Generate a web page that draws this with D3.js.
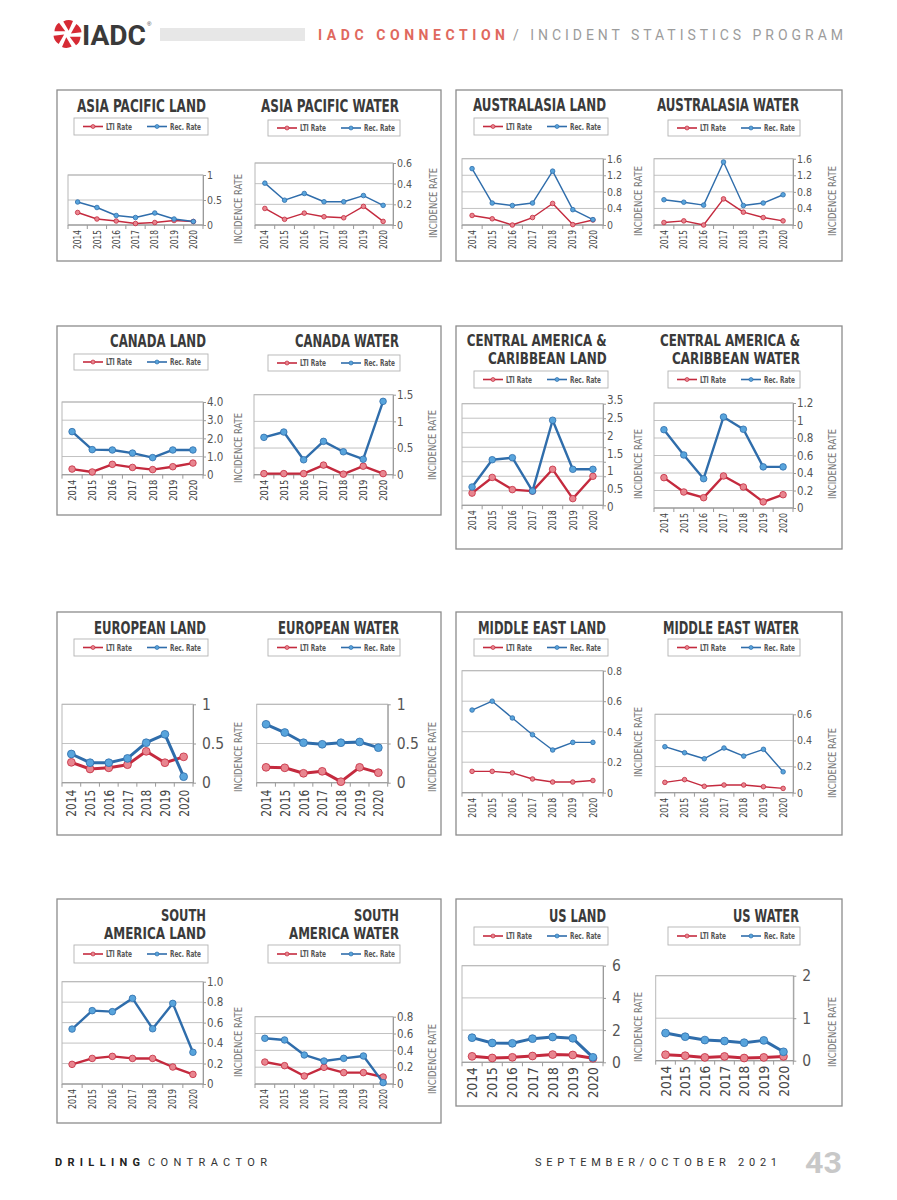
<!DOCTYPE html>
<html><head><meta charset="utf-8">
<script src="https://cdn.jsdelivr.net/npm/d3@7"></script>
<style>body{margin:0;background:#fff}svg{display:block}</style>
</head><body>
<svg id="page" width="897" height="1200"></svg>
<script>
// ---------------- DATA ----------------
const years = ["2014","2015","2016","2017","2018","2019","2020"];

const asiaPacificLandLTI  = [0.25,0.12,0.08,0.03,0.05,0.09,0.07];
const asiaPacificLandRec  = [0.46,0.35,0.19,0.15,0.24,0.12,0.07];
const asiaPacificWaterLTI = [0.16,0.055,0.115,0.08,0.07,0.18,0.035];
const asiaPacificWaterRec = [0.405,0.24,0.305,0.225,0.225,0.285,0.19];
const australasiaLandLTI  = [0.23,0.15,0.0,0.18,0.52,0.01,0.12];
const australasiaLandRec  = [1.36,0.53,0.47,0.53,1.30,0.37,0.13];
const australasiaWaterLTI = [0.06,0.10,0.0,0.63,0.31,0.18,0.10];
const australasiaWaterRec = [0.61,0.55,0.48,1.52,0.47,0.53,0.73];
const canadaLandLTI  = [0.31,0.15,0.57,0.40,0.28,0.44,0.64];
const canadaLandRec  = [2.37,1.38,1.36,1.19,0.94,1.36,1.36];
const canadaWaterLTI = [0.02,0.02,0.02,0.18,0.01,0.16,0.02];
const canadaWaterRec = [0.70,0.80,0.28,0.625,0.43,0.29,1.375];
const centralAmLandLTI  = [0.42,0.96,0.54,0.49,1.24,0.23,1.0];
const centralAmLandRec  = [0.63,1.57,1.64,0.49,2.93,1.24,1.24];
const centralAmWaterLTI = [0.347,0.183,0.118,0.366,0.24,0.07,0.152];
const centralAmWaterRec = [0.895,0.606,0.335,1.04,0.90,0.47,0.47];
const europeanLandLTI  = [0.26,0.175,0.19,0.23,0.40,0.255,0.33];
const europeanLandRec  = [0.366,0.255,0.255,0.31,0.51,0.617,0.077];
const europeanWaterLTI = [0.196,0.19,0.12,0.145,0.013,0.196,0.128];
const europeanWaterRec = [0.745,0.64,0.51,0.49,0.51,0.52,0.447];
const middleEastLandLTI  = [0.14,0.14,0.13,0.09,0.07,0.07,0.08];
const middleEastLandRec  = [0.542,0.60,0.49,0.38,0.28,0.33,0.33];
const middleEastWaterLTI = [0.079,0.10,0.049,0.059,0.059,0.046,0.033];
const middleEastWaterRec = [0.352,0.306,0.26,0.342,0.28,0.332,0.16];
const southAmLandLTI  = [0.192,0.25,0.27,0.25,0.25,0.166,0.094];
const southAmLandRec  = [0.537,0.717,0.707,0.837,0.54,0.788,0.31];
const southAmWaterLTI = [0.261,0.218,0.095,0.198,0.135,0.135,0.083];
const southAmWaterRec = [0.543,0.523,0.345,0.273,0.305,0.333,0.016];
const usLandLTI  = [0.37,0.27,0.31,0.39,0.48,0.455,0.25];
const usLandRec  = [1.53,1.20,1.18,1.47,1.57,1.49,0.31];
const usWaterLTI = [0.141,0.118,0.078,0.10,0.063,0.078,0.10];
const usWaterRec = [0.65,0.565,0.486,0.463,0.424,0.478,0.21];

// tick values and their labels
const ticksHalf = [0,0.5,1];            const labelsHalf = ["0","0.5","1"];
const ticks06 = [0,0.2,0.4,0.6];        const labels06 = ["0","0.2","0.4","0.6"];
const ticks16 = [0,0.4,0.8,1.2,1.6];    const labels16 = ["0","0.4","0.8","1.2","1.6"];
const ticks40 = [0,1,2,3,4];            const labels40 = ["0","1.0","2.0","3.0","4.0"];
const ticks15 = [0,0.5,1,1.5];          const labels15 = ["0","0.5","1","1.5"];
const ticks35 = [0,0.5,1,1.5,2,2.5,3,3.5]; const labels35 = ["3.5","2.5","2","1.5","1","0.5","0"];
const ticks12 = [0,0.2,0.4,0.6,0.8,1,1.2]; const labels12 = ["0","0.2","0.4","0.6","0.8","1","1.2"];
const ticks08 = [0,0.2,0.4,0.6,0.8];    const labels08 = ["0","0.2","0.4","0.6","0.8"];
const ticks10 = [0,0.2,0.4,0.6,0.8,1];  const labels10 = ["0","0.2","0.4","0.6","0.8","1.0"];
const ticks6 = [0,2,4,6];               const labels6 = ["0","2","4","6"];
const ticks2 = [0,1,2];                 const labels2 = ["0","1","2"];

// ---------------- STYLE / LAYOUT ----------------
const COND = "'DejaVu Sans Condensed','Liberation Sans Narrow','Roboto Condensed',Roboto,sans-serif";
const RED = "#c42a3e", REDF = "#e8858f", BLUE = "#2f6dab", BLUEF = "#58a4dc";
const thin  = {lw:1.4, r:2.3, tfs:10.5, pad:4};
const med   = {lw:2.4, r:3.3, tfs:11.5, pad:4};
const thick = {lw:3.0, r:3.9, tfs:15.5, pad:9};

const boxes = [[57,90,384,171],[456,90,386,171],[57,326,384,189],[456,326,386,223],
               [57,612,384,223],[456,612,386,223],[57,899,384,224],[456,899,386,207]];

const charts = [
 {t:["ASIA PACIFIC LAND"], tr:206, ty:112, tw:[129], leg:[74,118,134,17], p:[68,203,175,225], ymax:1, ticks:ticksHalf, labels:labelsHalf, lti:asiaPacificLandLTI, rec:asiaPacificLandRec, st:thin, yl:[237.5,209], yf:10, ylen:19, yg:5},
 {t:["ASIA PACIFIC WATER"], tr:399, ty:112, tw:[138], leg:[268,120,132,16], p:[255,393,163,225], ymax:0.6, ticks:ticks06, labels:labels06, lti:asiaPacificWaterLTI, rec:asiaPacificWaterRec, st:thin, yl:[432.5,203], yf:10, ylen:19, yg:5},
 {t:["AUSTRALASIA LAND"], tr:606, ty:111, tw:[133], leg:[474,118,134,17], p:[462,603,158.7,225], ymax:1.6, ticks:ticks16, labels:labels16, lti:australasiaLandLTI, rec:australasiaLandRec, st:thin, yl:[638,201], yf:10, ylen:19, yg:5},
 {t:["AUSTRALASIA WATER"], tr:799, ty:111, tw:[142], leg:[668,120,132,16], p:[654,793,158.7,225], ymax:1.6, ticks:ticks16, labels:labels16, lti:australasiaWaterLTI, rec:australasiaWaterRec, st:thin, yl:[832,201], yf:10, ylen:19, yg:5},
 {t:["CANADA LAND"], tr:206, ty:347, tw:[96], leg:[74,354,134,16], p:[62,203,402,474.7], ymax:4, ticks:ticks40, labels:labels40, lti:canadaLandLTI, rec:canadaLandRec, st:med, yl:[237.7,448], yf:11, ylen:21, yg:5},
 {t:["CANADA WATER"], tr:399, ty:347, tw:[104], leg:[268,355,132,16], p:[254,393,394.7,474.7], ymax:1.5, ticks:ticks15, labels:labels15, lti:canadaWaterLTI, rec:canadaWaterRec, st:med, yl:[431.7,445], yf:11, ylen:21, yg:5},
 {t:["CENTRAL AMERICA &","CARIBBEAN LAND"], tr:606.7, ty:347, tw:[140,118.7], leg:[474,371,134,17], p:[462,603,403.7,505.3], ymax:3.5, ticks:ticks35, labels:labels35, pointLabels:true, lti:centralAmLandLTI, rec:centralAmLandRec, st:med, yl:[638,464], yf:10.5, ylen:20, yg:5},
 {t:["CENTRAL AMERICA &","CARIBBEAN WATER"], tr:800, ty:347, tw:[140,128], leg:[668,371,132,17], p:[654,793,403,508], ymax:1.2, ticks:ticks12, labels:labels12, lti:centralAmWaterLTI, rec:centralAmWaterRec, st:med, yl:[831.7,464], yf:10.5, ylen:20, yg:5},
 {t:["EUROPEAN LAND"], tr:206, ty:634, tw:[112], leg:[74,639,134,17], p:[62,193,704.3,782.7], ymax:1, ticks:ticksHalf, labels:labelsHalf, lti:europeanLandLTI, rec:europeanLandRec, st:thick, yl:[237.7,757], yf:14, ylen:27, yg:7},
 {t:["EUROPEAN WATER"], tr:399, ty:634, tw:[121], leg:[268,639,132,17], p:[256.7,387.7,704.3,782.7], ymax:1, ticks:ticksHalf, labels:labelsHalf, lti:europeanWaterLTI, rec:europeanWaterRec, st:thick, yl:[431.7,757], yf:14, ylen:27, yg:7},
 {t:["MIDDLE EAST LAND"], tr:606, ty:634, tw:[128], leg:[474,639,134,17], p:[462,603,670.7,792.7], ymax:0.8, ticks:ticks08, labels:labels08, lti:middleEastLandLTI, rec:middleEastLandRec, st:thin, yl:[637.7,742], yf:10, ylen:20, yg:5},
 {t:["MIDDLE EAST WATER"], tr:799, ty:634, tw:[136], leg:[668,639,132,17], p:[655,793,714.3,792.7], ymax:0.6, ticks:ticks06, labels:labels06, lti:middleEastWaterLTI, rec:middleEastWaterRec, st:thin, yl:[831.7,763], yf:10, ylen:20, yg:5},
 {t:["SOUTH","AMERICA LAND"], tr:206, ty:921.7, tw:[45,102], leg:[74,945,134,18], p:[62,203,981.7,1084], ymax:1, ticks:ticks10, labels:labels10, lti:southAmLandLTI, rec:southAmLandRec, st:med, yl:[237.7,1042], yf:10, ylen:20, yg:5},
 {t:["SOUTH","AMERICA WATER"], tr:399, ty:921.7, tw:[45,110], leg:[268,945,132,18], p:[255,393,1016.7,1084], ymax:0.8, ticks:ticks08, labels:labels08, lti:southAmWaterLTI, rec:southAmWaterRec, st:med, yl:[431.7,1059], yf:10, ylen:20, yg:5},
 {t:["US LAND"], tr:606, ty:921.7, tw:[57], leg:[474,927,134,18], p:[462,603,965.7,1062.3], ymax:6, ticks:ticks6, labels:labels6, lti:usLandLTI, rec:usLandRec, st:thick, yl:[637.7,1027], yf:14, ylen:31, yg:5},
 {t:["US WATER"], tr:799, ty:921.7, tw:[66], leg:[668,927,132,18], p:[655.7,793.3,975.7,1060.7], ymax:2, ticks:ticks2, labels:labels2, lti:usWaterLTI, rec:usWaterRec, st:thick, yl:[831.7,1032], yf:14, ylen:31, yg:5}
];

// ---------------- DRAW ----------------
const svg = d3.select("#page");

// header
const hdr = svg.append("g");
const petal = "M1.2,-3.2 L5.5,-13 Q1,-15.2 -4.2,-12.6 Z";
for (let k = 0; k < 6; k++) {
  hdr.append("path").attr("d", petal).attr("fill", "#d62a34")
     .attr("transform", `translate(67.5,34) rotate(${k*60})`);
}
hdr.append("text").attr("x",82).attr("y",45).text("IADC")
   .attr("font-family","Roboto,'Liberation Sans',sans-serif").attr("font-weight",700)
   .attr("font-size",27).attr("fill","#3a3a3a").attr("textLength",64).attr("lengthAdjust","spacingAndGlyphs");
hdr.append("text").attr("x",147).attr("y",26).text("®").attr("font-size",6).attr("fill","#3a3a3a").attr("font-family","sans-serif");
hdr.append("rect").attr("x",160).attr("y",28).attr("width",145).attr("height",13).attr("fill","#e7e7e7");
hdr.append("text").attr("x",318).attr("y",39.5).text("IADC CONNECTION")
   .attr("font-family","Roboto,sans-serif").attr("font-weight",700).attr("font-size",14)
   .attr("fill","#e0695e").attr("textLength",187).attr("lengthAdjust","spacing");
hdr.append("text").attr("x",513).attr("y",39.5).text("/ INCIDENT STATISTICS PROGRAM")
   .attr("font-family","Roboto,sans-serif").attr("font-weight",400).attr("font-size",14)
   .attr("fill","#9c9c9c").attr("textLength",330).attr("lengthAdjust","spacing");

// footer
const ftr = svg.append("g").attr("font-family","Roboto,sans-serif");
ftr.append("text").attr("x",55).attr("y",1166).text("DRILLING").attr("font-weight",700).attr("font-size",11)
   .attr("fill","#222").attr("textLength",85).attr("lengthAdjust","spacing");
ftr.append("text").attr("x",148).attr("y",1166).text("CONTRACTOR").attr("font-size",11)
   .attr("fill","#333").attr("textLength",119).attr("lengthAdjust","spacing");
ftr.append("text").attr("x",535).attr("y",1166).text("SEPTEMBER/OCTOBER 2021").attr("font-size",11)
   .attr("fill","#333").attr("textLength",242).attr("lengthAdjust","spacing");
ftr.append("text").attr("x",805).attr("y",1172.5).text("43").attr("font-weight",700).attr("font-size",30)
   .attr("fill","#c8c8c8").attr("textLength",37).attr("lengthAdjust","spacingAndGlyphs");

// panel boxes
svg.selectAll("rect.box").data(boxes).enter().append("rect").attr("class","box")
  .attr("x",d=>d[0]).attr("y",d=>d[1]).attr("width",d=>d[2]).attr("height",d=>d[3])
  .attr("fill","none").attr("stroke","#8c8c8c").attr("stroke-width",1.3);

function drawChart(c) {
  const g = svg.append("g");
  const [l, r, t, b] = c.p;
  const x = d3.scaleBand().domain(years).range([l, r]);
  const y = d3.scaleLinear().domain([0, c.ymax]).range([b, t]);
  const cx = d => x(d) + x.bandwidth() / 2;

  // title (two-line titles slightly smaller so the lines do not collide)
  const multi = c.t.length > 1;
  c.t.forEach((line, i) => {
    const by = multi ? (i === 0 ? c.ty - 1.2 : c.ty + 17.4) : c.ty;
    g.append("text").attr("x", c.tr).attr("y", by).text(line)
     .attr("text-anchor","end").attr("font-family",COND).attr("font-weight",700)
     .attr("font-size", multi ? 15.6 : 17).attr("fill","#3a3a3a")
     .attr("textLength",c.tw[i]).attr("lengthAdjust","spacingAndGlyphs");
  });

  // legend
  const [lx, ly, lw, lh] = c.leg;
  const lg = g.append("g");
  lg.append("rect").attr("x",lx).attr("y",ly).attr("width",lw).attr("height",lh)
    .attr("fill","#fff").attr("stroke","#b3b3b3").attr("stroke-width",0.9);
  const my = ly + lh / 2;
  const items = [{name:"LTI Rate", s:RED, f:REDF, x0:lx+9, tl:26}, {name:"Rec. Rate", s:BLUE, f:BLUEF, x0:lx+73, tl:31}];
  items.forEach(it => {
    lg.append("line").attr("x1",it.x0).attr("x2",it.x0+20).attr("y1",my).attr("y2",my)
      .attr("stroke",it.s).attr("stroke-width",1.6);
    lg.append("circle").attr("cx",it.x0+10).attr("cy",my).attr("r",2).attr("fill",it.f)
      .attr("stroke",it.s).attr("stroke-width",0.7);
    lg.append("text").attr("x",it.x0+23).attr("y",my+3).text(it.name)
      .attr("font-family",COND).attr("font-weight",700).attr("font-size",8.5).attr("fill","#555")
      .attr("textLength",it.tl).attr("lengthAdjust","spacingAndGlyphs");
  });

  // gridlines
  g.append("g").selectAll("line").data(c.ticks).enter().append("line")
    .attr("x1",l).attr("x2",r).attr("y1",d=>y(d)).attr("y2",d=>y(d))
    .attr("stroke","#c2c2c2").attr("stroke-width",1);
  // plot border
  g.append("rect").attr("x",l).attr("y",t).attr("width",r-l).attr("height",b-t)
    .attr("fill","none").attr("stroke","#b8b8b8").attr("stroke-width",1);

  // right value axis
  const ax = g.append("g").attr("transform",`translate(${r},0)`)
    .call(d3.axisRight(y).tickValues(c.ticks).tickSize(3).tickSizeOuter(0).tickPadding(c.st.pad - 3)
      .tickFormat(c.pointLabels ? () => "" : (d, i) => c.labels[i]));
  ax.select(".domain").attr("stroke","#9a9a9a");
  ax.selectAll(".tick line").attr("stroke","#9a9a9a");
  ax.selectAll("text").attr("font-family",COND).attr("font-size",c.st.tfs).attr("fill","#555");
  if (c.pointLabels) {
    const ps = d3.scalePoint().domain(c.labels).range([t - 3.4, b + 1.7]);
    g.append("g").selectAll("text").data(c.labels).enter().append("text")
      .attr("x", r + c.st.pad).attr("y", d => ps(d)).attr("dy","0.35em").text(d => d)
      .attr("font-family",COND).attr("font-size",c.st.tfs).attr("fill","#555");
  }

  // bottom category axis: baseline and tick marks between categories
  g.append("line").attr("x1",l).attr("x2",r).attr("y1",b).attr("y2",b).attr("stroke","#9a9a9a");
  g.append("g").selectAll("line").data(years.concat(["end"])).enter().append("line")
    .attr("x1",d=>d==="end"?r:x(d)).attr("x2",d=>d==="end"?r:x(d))
    .attr("y1",b).attr("y2",b+4).attr("stroke","#9a9a9a");
  g.append("g").selectAll("text").data(years).enter().append("text")
    .attr("transform",d=>`translate(${cx(d)+c.yf*0.36},${b + c.yg}) rotate(-90)`)
    .attr("text-anchor","end").text(d=>d)
    .attr("font-family",COND).attr("font-size",c.yf).attr("fill","#444")
    .attr("textLength",c.ylen).attr("lengthAdjust","spacingAndGlyphs");

  // y title
  g.append("text").attr("transform",`translate(${c.yl[0]+4},${c.yl[1]}) rotate(-90)`)
    .attr("text-anchor","middle").text("INCIDENCE RATE")
    .attr("font-family",COND).attr("font-size",11).attr("fill","#777")
    .attr("textLength",70).attr("lengthAdjust","spacingAndGlyphs");

  // series
  const line = d3.line().x((d,i)=>cx(years[i])).y(d=>y(d));
  [{v:c.lti, s:RED, f:REDF}, {v:c.rec, s:BLUE, f:BLUEF}].forEach(se => {
    g.append("path").attr("d", line(se.v)).attr("fill","none").attr("stroke",se.s)
      .attr("stroke-width",c.st.lw).attr("stroke-linejoin","round");
    g.append("g").selectAll("circle").data(se.v).enter().append("circle")
      .attr("cx",(d,i)=>cx(years[i])).attr("cy",d=>y(d)).attr("r",c.st.r)
      .attr("fill",se.f).attr("stroke",se.s).attr("stroke-width",0.8);
  });
}
charts.forEach(drawChart);
</script>
</body></html>
